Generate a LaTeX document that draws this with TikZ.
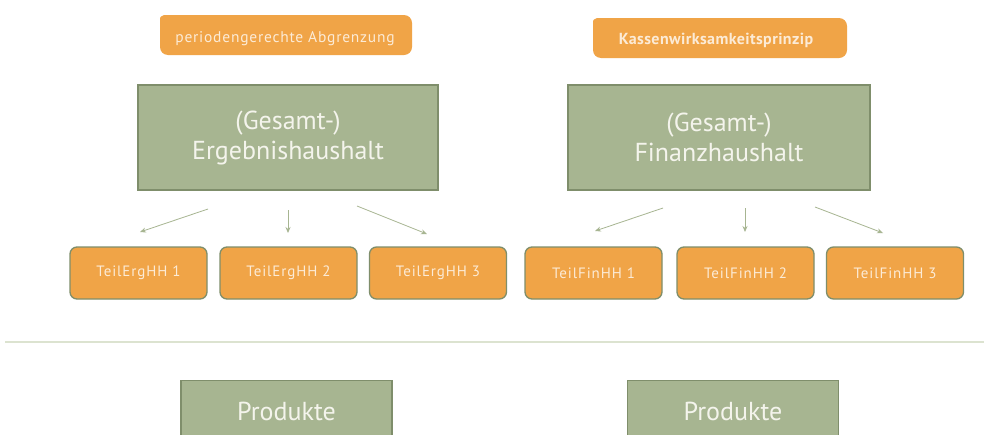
\documentclass[tikz,border=0pt]{standalone}
\usepackage{fontspec}
\setmainfont{PT Sans}
\usetikzlibrary{arrows.meta}
\definecolor{boxgreen}{HTML}{A7B591}
\definecolor{edgegreen}{HTML}{7F8E6B}
\definecolor{orng}{HTML}{F0A447}
\definecolor{txtlight}{HTML}{F4F4EC}
\definecolor{txtorange}{HTML}{FCEBD6}
\definecolor{sepline}{HTML}{DCE3D0}
\tikzset{
  bigbox/.style={draw=edgegreen, line width=1.2pt, fill=boxgreen, text=txtlight,
    minimum width=300pt, minimum height=105pt, align=center, font=\fontsize{26}{30}\selectfont},
  subbox/.style={draw=edgegreen, line width=1.3pt, fill=orng, text=txtorange, rounded corners=7pt,
    minimum width=137pt, minimum height=52pt, font=\fontsize{15}{16}\selectfont\addfontfeature{LetterSpace=6}},
  prodbox/.style={draw=edgegreen, line width=1.2pt, fill=boxgreen, text=txtlight,
    minimum width=211pt, minimum height=70pt, anchor=north},
  prodtext/.style={text=txtlight, font=\fontsize{26}{30}\selectfont},
  arr/.style={draw=boxgreen, line width=0.8pt, -{Stealth[length=6pt,width=5pt]}},
  lbltext/.style={text=txtorange, font=\fontsize{15.5}{17}\selectfont\addfontfeature{LetterSpace=5}}
}
\begin{document}
\begin{tikzpicture}[x=1pt,y=-1pt]
\useasboundingbox (0,0) rectangle (984,434);
\clip (0,0) rectangle (984,434);
\fill[white] (0,0) rectangle (984,434);
% orange header labels
\fill[orng] (160,55) -- (160,18) [rounded corners=2pt] -- (162,15) [rounded corners=8pt]-- (412,15) -- (412,55) -- cycle;
\node[lbltext] (lblA) at (285,38.5) {periodengerechte Abgrenzung};
\fill[orng] (593,58) -- (593,21) [rounded corners=2pt] -- (595,18) [rounded corners=8pt]-- (847,18) -- (847,58) -- cycle;
\node[lbltext, font=\bfseries\fontsize{16}{17}\selectfont\addfontfeature{LetterSpace=2.5}] (lblB) at (716,40) {Kassenwirksamkeitsprinzip};
% big boxes
\node[bigbox] (erg) at (288,137.5) {\raisebox{-3pt}{(Gesamt-)}\\\raisebox{-3pt}{Ergebnishaushalt}};
\node[bigbox, minimum width=302pt] (fin) at (719,137.5) {\raisebox{-3pt}{(Gesamt-)}\\\raisebox{-3pt}{Finanzhaushalt}};
% sub boxes
\node[subbox] (e1) at (138.5,273) {\raisebox{-3pt}{TeilErgHH 1}};
\node[subbox] (e2) at (288.5,273) {\raisebox{-3pt}{TeilErgHH 2}};
\node[subbox] (e3) at (438,273) {\raisebox{-3pt}{TeilErgHH 3}};
\node[subbox] (f1) at (593.5,273) {\raisebox{-3pt}{TeilFinHH 1}};
\node[subbox] (f2) at (745.5,273) {\raisebox{-3pt}{TeilFinHH 2}};
\node[subbox] (f3) at (895,273) {\raisebox{-3pt}{TeilFinHH 3}};
% arrow coordinates
\coordinate (a1s) at (208,209); \coordinate (a1e) at (140,232);
\coordinate (a2s) at (288,210); \coordinate (a2e) at (288,233);
\coordinate (a3s) at (357,206); \coordinate (a3e) at (427,234);
\coordinate (b1s) at (663,208); \coordinate (b1e) at (595,231);
\coordinate (b2s) at (745,208); \coordinate (b2e) at (745,232);
\coordinate (b3s) at (815,207); \coordinate (b3e) at (883,233);
\draw[arr] (a1s) -- (a1e);
\draw[arr] (a2s) -- (a2e);
\draw[arr] (a3s) -- (a3e);
\draw[arr] (b1s) -- (b1e);
\draw[arr] (b2s) -- (b2e);
\draw[arr] (b3s) -- (b3e);
% separator
\coordinate (sepL) at (5,342); \coordinate (sepR) at (984,342);
\draw[sepline, line width=1.5pt] (sepL) -- (sepR);
% Produkte
\node[prodbox] (p1) at (286.5,380) {};
\node[prodtext] (p1t) at (286.5,411) {Produkte};
\node[prodbox] (p2) at (733,380) {};
\node[prodtext] (p2t) at (733,411) {Produkte};
\end{tikzpicture}
\end{document}
